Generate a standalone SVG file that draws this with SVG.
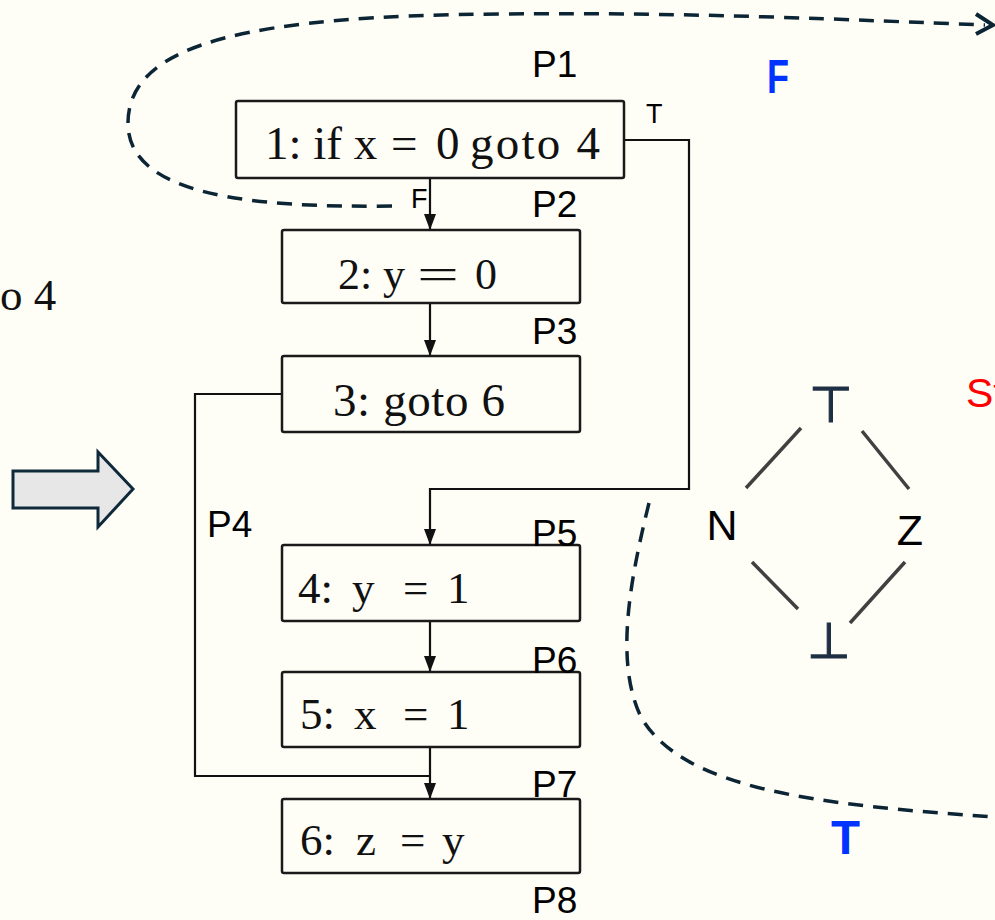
<svg xmlns="http://www.w3.org/2000/svg" width="995" height="920" viewBox="0 0 995 920">
<style>
.box{fill:none;stroke:#1a1a1a;stroke-width:2.5}
.code{font-family:"Liberation Serif","DejaVu Serif",serif;fill:#111}
.pl{font-family:"Liberation Sans","Noto Sans",sans-serif;font-size:37px;fill:#000}
.tf{font-family:"Liberation Sans","Noto Sans",sans-serif;font-size:27px;fill:#000}
.edge{fill:none;stroke:#111;stroke-width:2.2}
.dash{fill:none;stroke:#0B2535;stroke-width:3.5;stroke-dasharray:15 10}
.lat{stroke:#404040;stroke-width:3.5}
.tb{font-family:"DejaVu Sans",sans-serif;font-size:50px;fill:#1F3044;stroke:#1F3044;stroke-width:1.2}
.blue{font-family:"Liberation Sans","Noto Sans",sans-serif;font-weight:bold;font-size:48px;fill:#0033FF}
</style>
<defs>
<marker id="ah" viewBox="0 0 12 16" refX="6" refY="16" markerWidth="12" markerHeight="16" markerUnits="userSpaceOnUse" orient="0">
<path d="M0,0 L12,0 L6,16 Z" fill="#111"/>
</marker>
</defs>
<rect width="995" height="920" fill="#FEFDF6"/>
<text x="0" y="310" class="code" font-size="45" fill="#222">o 4</text>
<polygon points="13,471 98,471 98,452 133,489 98,527 98,508 13,508" fill="#E7E7E7" stroke="#0E2A3A" stroke-width="3" stroke-linejoin="miter"/>
<g id="connectors">
<path class="edge" d="M430,178 V230" marker-end="url(#ah)"/>
<path class="edge" d="M430,303 V356" marker-end="url(#ah)"/>
<path class="edge" d="M624,140 H689 V489 H430 V545" marker-end="url(#ah)"/>
<path class="edge" d="M430,621 V672" marker-end="url(#ah)"/>
<path class="edge" d="M430,747 V799" marker-end="url(#ah)"/>
<path class="edge" d="M282,394 H195 V776 H430"/>
<text x="646" y="123" class="tf">T</text>
<text x="411" y="208" class="tf">F</text>
<path class="dash" d="M392,206 C250,208 130,195 128,125 C126,40 260,16 500,14 C700,12 850,20 985,25"/>
<polyline points="976,14 993,25 976,34" fill="none" stroke="#0B2535" stroke-width="4" stroke-linejoin="miter"/>
<path class="dash" d="M649,503 C630,580 615,660 640,715 C680,790 820,805 995,817"/>
</g>
<g id="n1"><rect class="box" x="236" y="101" width="388" height="77" rx="2"/><text class="code" y="159" font-size="47"><tspan x="265">1: if x</tspan><tspan x="391">=</tspan><tspan x="436">0</tspan><tspan x="470" textLength="130" lengthAdjust="spacing">goto 4</tspan></text></g>
<g id="n2"><rect class="box" x="282" y="230" width="298" height="73" rx="2"/><text class="code" y="289" font-size="44"><tspan x="338">2:</tspan><tspan x="383">y</tspan><tspan x="417" textLength="42" lengthAdjust="spacingAndGlyphs">=</tspan><tspan x="475">0</tspan></text></g>
<g id="n3"><rect class="box" x="282" y="356" width="298" height="76" rx="2"/><text class="code" x="333" y="416" font-size="47" textLength="172" lengthAdjust="spacing">3: goto 6</text></g>
<g id="n4"><rect class="box" x="282" y="545" width="298" height="76" rx="2"/><text class="code" y="603" font-size="45"><tspan x="298">4:</tspan><tspan x="352">y</tspan><tspan x="403">=</tspan><tspan x="447">1</tspan></text></g>
<g id="n5"><rect class="box" x="282" y="672" width="298" height="75" rx="2"/><text class="code" y="729" font-size="45"><tspan x="300">5:</tspan><tspan x="354">x</tspan><tspan x="403">=</tspan><tspan x="447">1</tspan></text></g>
<g id="n6"><rect class="box" x="282" y="799" width="298" height="74" rx="2"/><text class="code" y="855" font-size="45"><tspan x="300">6:</tspan><tspan x="356">z</tspan><tspan x="400">=</tspan><tspan x="442">y</tspan></text></g>
<g id="labels">
<text class="pl" x="532" y="77">P1</text>
<text class="pl" x="532" y="217">P2</text>
<text class="pl" x="532" y="344">P3</text>
<text class="pl" x="207" y="537">P4</text>
<text class="pl" x="532" y="546">P5</text>
<text class="pl" x="532" y="673">P6</text>
<text class="pl" x="532" y="797">P7</text>
<text class="pl" x="532" y="913">P8</text>
<text class="blue" x="767" y="93" textLength="22" lengthAdjust="spacingAndGlyphs">F</text>
<text class="blue" x="831" y="854" textLength="29" lengthAdjust="spacingAndGlyphs">T</text>
<text x="966" y="407" font-family="Liberation Sans, Noto Sans, sans-serif" font-size="41" fill="#FF0000">St</text>
</g>
<g id="lattice">
<text class="tb" x="831" y="422" text-anchor="middle">⊤</text>
<text class="tb" x="829" y="658" text-anchor="middle">⊥</text>
<text x="722" y="540" text-anchor="middle" font-family="Liberation Sans, Noto Sans, sans-serif" font-size="43" fill="#000">N</text>
<text x="910" y="545" text-anchor="middle" font-family="Liberation Sans, Noto Sans, sans-serif" font-size="43" fill="#000">Z</text>
<line class="lat" x1="801" y1="428" x2="746" y2="488"/>
<line class="lat" x1="862" y1="431" x2="909" y2="489"/>
<line class="lat" x1="752" y1="562" x2="798" y2="609"/>
<line class="lat" x1="905" y1="562" x2="850" y2="623"/>
</g>
</svg>
